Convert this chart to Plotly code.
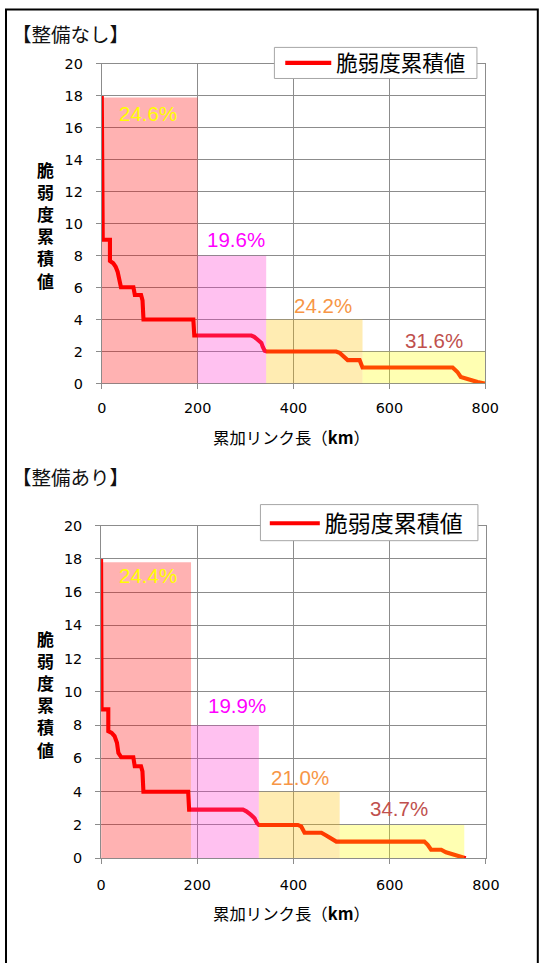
import plotly.graph_objects as go

# ---------------- data ----------------
series_name = "脆弱度累積値"
x_ticks = [0, 200, 400, 600, 800]
y_ticks = [0, 2, 4, 6, 8, 10, 12, 14, 16, 18, 20]

# 【整備なし】 cumulative fragility vs cumulative link length (km)
before_x = [0, 2, 17, 17, 24, 29, 33, 36, 38, 40, 66, 69, 82, 85, 87, 191, 193, 312, 318, 326, 333,
            336, 340, 344, 489, 496, 506, 513, 538, 541, 544, 732, 742, 749, 766, 784, 799]
before_y = [18, 9, 9, 7.67, 7.52, 7.31, 7.0, 6.48, 6.16, 6.02, 6.02, 5.54, 5.54, 5.2, 4.0, 4.0, 3.0, 3.0,
            2.92, 2.71, 2.54, 2.29, 2.04, 2.0, 2.0, 1.92, 1.66, 1.46, 1.46, 1.14, 1.0, 1.0, 0.72,
            0.41, 0.24, 0.09, 0.0]

# 【整備あり】
after_x = [0, 1, 15, 15, 22, 28, 33, 36, 42, 67, 70, 83, 86, 88, 181, 183, 295, 302, 311, 319, 324,
           328, 409, 416, 423, 458, 468, 478, 489, 672, 679, 686, 707, 717, 731, 745, 758]
after_y = [18, 8.95, 8.95, 7.64, 7.54, 7.34, 6.94, 6.33, 6.07, 6.07, 5.53, 5.53, 5.22, 4.0, 4.0, 2.92,
           2.92, 2.82, 2.62, 2.41, 2.11, 2.0, 2.0, 1.91, 1.53, 1.53, 1.37, 1.17, 1.0, 1.0, 0.81, 0.51,
           0.51, 0.36, 0.24, 0.1, 0.0]

# share bands (x from, x to, height) and their percentages
before_band_x0 = [0, 200, 343, 544]
before_band_x1 = [200, 343, 544, 800]
before_band_top = [17.9, 8, 4, 2]
before_band_pct = ["24.6%", "19.6%", "24.2%", "31.6%"]

after_band_x0 = [0, 187, 328, 496]
after_band_x1 = [187, 328, 496, 755]
after_band_top = [17.8, 8, 4, 2]
after_band_pct = ["24.4%", "19.9%", "21.0%", "34.7%"]

# ---------------- styles / geometry ----------------
# screen geometry of the viewer (page px -> picture px): pic = O + S * page
S_X, S_Y, O_X, O_Y = 0.968, 0.981, 3.0, 8.7
FW, FH = 556, 973
CJK = "Noto Sans CJK JP"
NUM = "DejaVu Sans"
PCT = "Liberation Sans, Arial"
band_fill = ["#FF0000", "#FF33CC", "#FFC000", "#FFFF00"]
band_opacity = [0.3, 0.3, 0.3, 0.3]
pct_color = ["#FFFF00", "#FF00FF", "#F79646", "#C0504D"]
grid = "#8C8C8C"

# label placement (data coords) for each chart
before_lbl_x = [96, 279, 462, 693]
before_lbl_y = [16.9, 9.0, 4.85, 2.7]
after_lbl_x = [98, 282, 414, 620]
after_lbl_y = [17.0, 9.2, 4.85, 2.97]


def fx(p):
    """target picture x -> paper fraction"""
    return ((p - O_X) / S_X) / FW


def fy(p):
    """target picture y (from top) -> paper fraction"""
    return 1 - ((p - O_Y) / S_Y) / FH


fig = go.Figure()
fig.add_trace(go.Scatter(x=before_x, y=before_y, mode="lines", name=series_name,
                         line=dict(color="#FF0000", width=4.1), xaxis="x", yaxis="y",
                         legend="legend", hoverinfo="skip"))
fig.add_trace(go.Scatter(x=after_x, y=after_y, mode="lines", name=series_name,
                         line=dict(color="#FF0000", width=4.1), xaxis="x2", yaxis="y2",
                         legend="legend2", hoverinfo="skip"))

shapes = []
annotations = []
for xr, yr, x0s, x1s, tops, pcts, lx, ly in [
    ("x", "y", before_band_x0, before_band_x1, before_band_top, before_band_pct, before_lbl_x, before_lbl_y),
    ("x2", "y2", after_band_x0, after_band_x1, after_band_top, after_band_pct, after_lbl_x, after_lbl_y),
]:
    for i in range(len(x0s)):
        shapes.append(dict(type="rect", xref=xr, yref=yr, x0=x0s[i], x1=x1s[i], y0=0, y1=tops[i],
                           fillcolor=band_fill[i], opacity=band_opacity[i], line=dict(width=0),
                           layer="above"))
        annotations.append(dict(xref=xr, yref=yr, x=lx[i], y=ly[i], text=pcts[i], showarrow=False,
                                font=dict(family=PCT, size=20.5, color=pct_color[i]),
                                xanchor="center", yanchor="middle"))

# legend frames (white boxes behind the transparent legends)
for (bx0, by0, bx1, by1) in [(273, 48, 476, 79), (259, 504, 477, 540)]:
    shapes.append(dict(type="rect", xref="paper", yref="paper", x0=fx(bx0), x1=fx(bx1),
                       y0=fy(by1), y1=fy(by0), fillcolor="white",
                       line=dict(color="#A6A6A6", width=1), layer="above"))

# outer frame
shapes.append(dict(type="rect", xref="paper", yref="paper", x0=fx(4), x1=fx(537),
                   y0=-0.02, y1=1 - 1.5 / FH, line=dict(color="black", width=2), layer="above"))

# titles
for txt, yp in [("【整備なし】", 34), ("【整備あり】", 476)]:
    annotations.append(dict(xref="paper", yref="paper", x=fx(8.5), y=fy(yp), text=txt,
                            showarrow=False, xanchor="left", yanchor="middle",
                            font=dict(family=CJK, size=19.5, color="#111111")))
# x-axis titles
for yp in [437, 911.5]:
    annotations.append(dict(xref="paper", yref="paper", x=fx(290), y=fy(yp),
                            text="累加リンク長（<b>km</b>）", showarrow=False,
                            xanchor="center", yanchor="middle",
                            font=dict(family=CJK, size=16.4, color="black")))
# y-axis titles (vertical stacked)
for yp in [225, 693]:
    annotations.append(dict(xref="paper", yref="paper", x=fx(43.5), y=fy(yp),
                            text="<b>" + "<br>".join(list("脆弱度累積値")) + "</b>", showarrow=False,
                            xanchor="center", yanchor="middle",
                            font=dict(family=CJK, size=17, color="black")))

axis_common = dict(showgrid=True, gridcolor=grid, gridwidth=1, showline=True, linecolor=grid,
                   linewidth=1, mirror=True, ticks="outside", ticklen=5, tickcolor=grid,
                   zeroline=False, tickfont=dict(family=NUM, size=14.4, color="black"),
                   fixedrange=True)

legend_common = dict(xanchor="left", yanchor="top", bgcolor="rgba(0,0,0,0)", borderwidth=0,
                     orientation="h")

fig.update_layout(
    width=FW, height=FH, margin=dict(l=0, r=0, t=0, b=0),
    paper_bgcolor="white", plot_bgcolor="white", showlegend=True,
    xaxis=dict(domain=[fx(100), fx(484.3)], anchor="y", range=[0, 800], tickvals=x_ticks,
               ticklabelstandoff=6, **axis_common),
    yaxis=dict(domain=[fy(383.2), fy(64.5)], anchor="x", range=[0, 20], tickvals=y_ticks,
               ticklabelstandoff=10, **axis_common),
    xaxis2=dict(domain=[fx(99.3), fx(485)], anchor="y2", range=[0, 800], tickvals=x_ticks,
                ticklabelstandoff=9, **axis_common),
    yaxis2=dict(domain=[fy(856.7), fy(525)], anchor="x2", range=[0, 20], tickvals=y_ticks,
                ticklabelstandoff=10, **axis_common),
    legend=dict(x=285 / FW, y=1 - 35 / FH, itemwidth=46,
                font=dict(family=CJK, size=21.5, color="black"), **legend_common),
    legend2=dict(x=269 / FW, y=1 - 502 / FH, itemwidth=50,
                 font=dict(family=CJK, size=23, color="black"), **legend_common),
    shapes=shapes, annotations=annotations,
)

fig.write_html("out.html", config={"displayModeBar": False},
               post_script="document.body.style.margin='0';document.body.style.overflow='hidden';")
